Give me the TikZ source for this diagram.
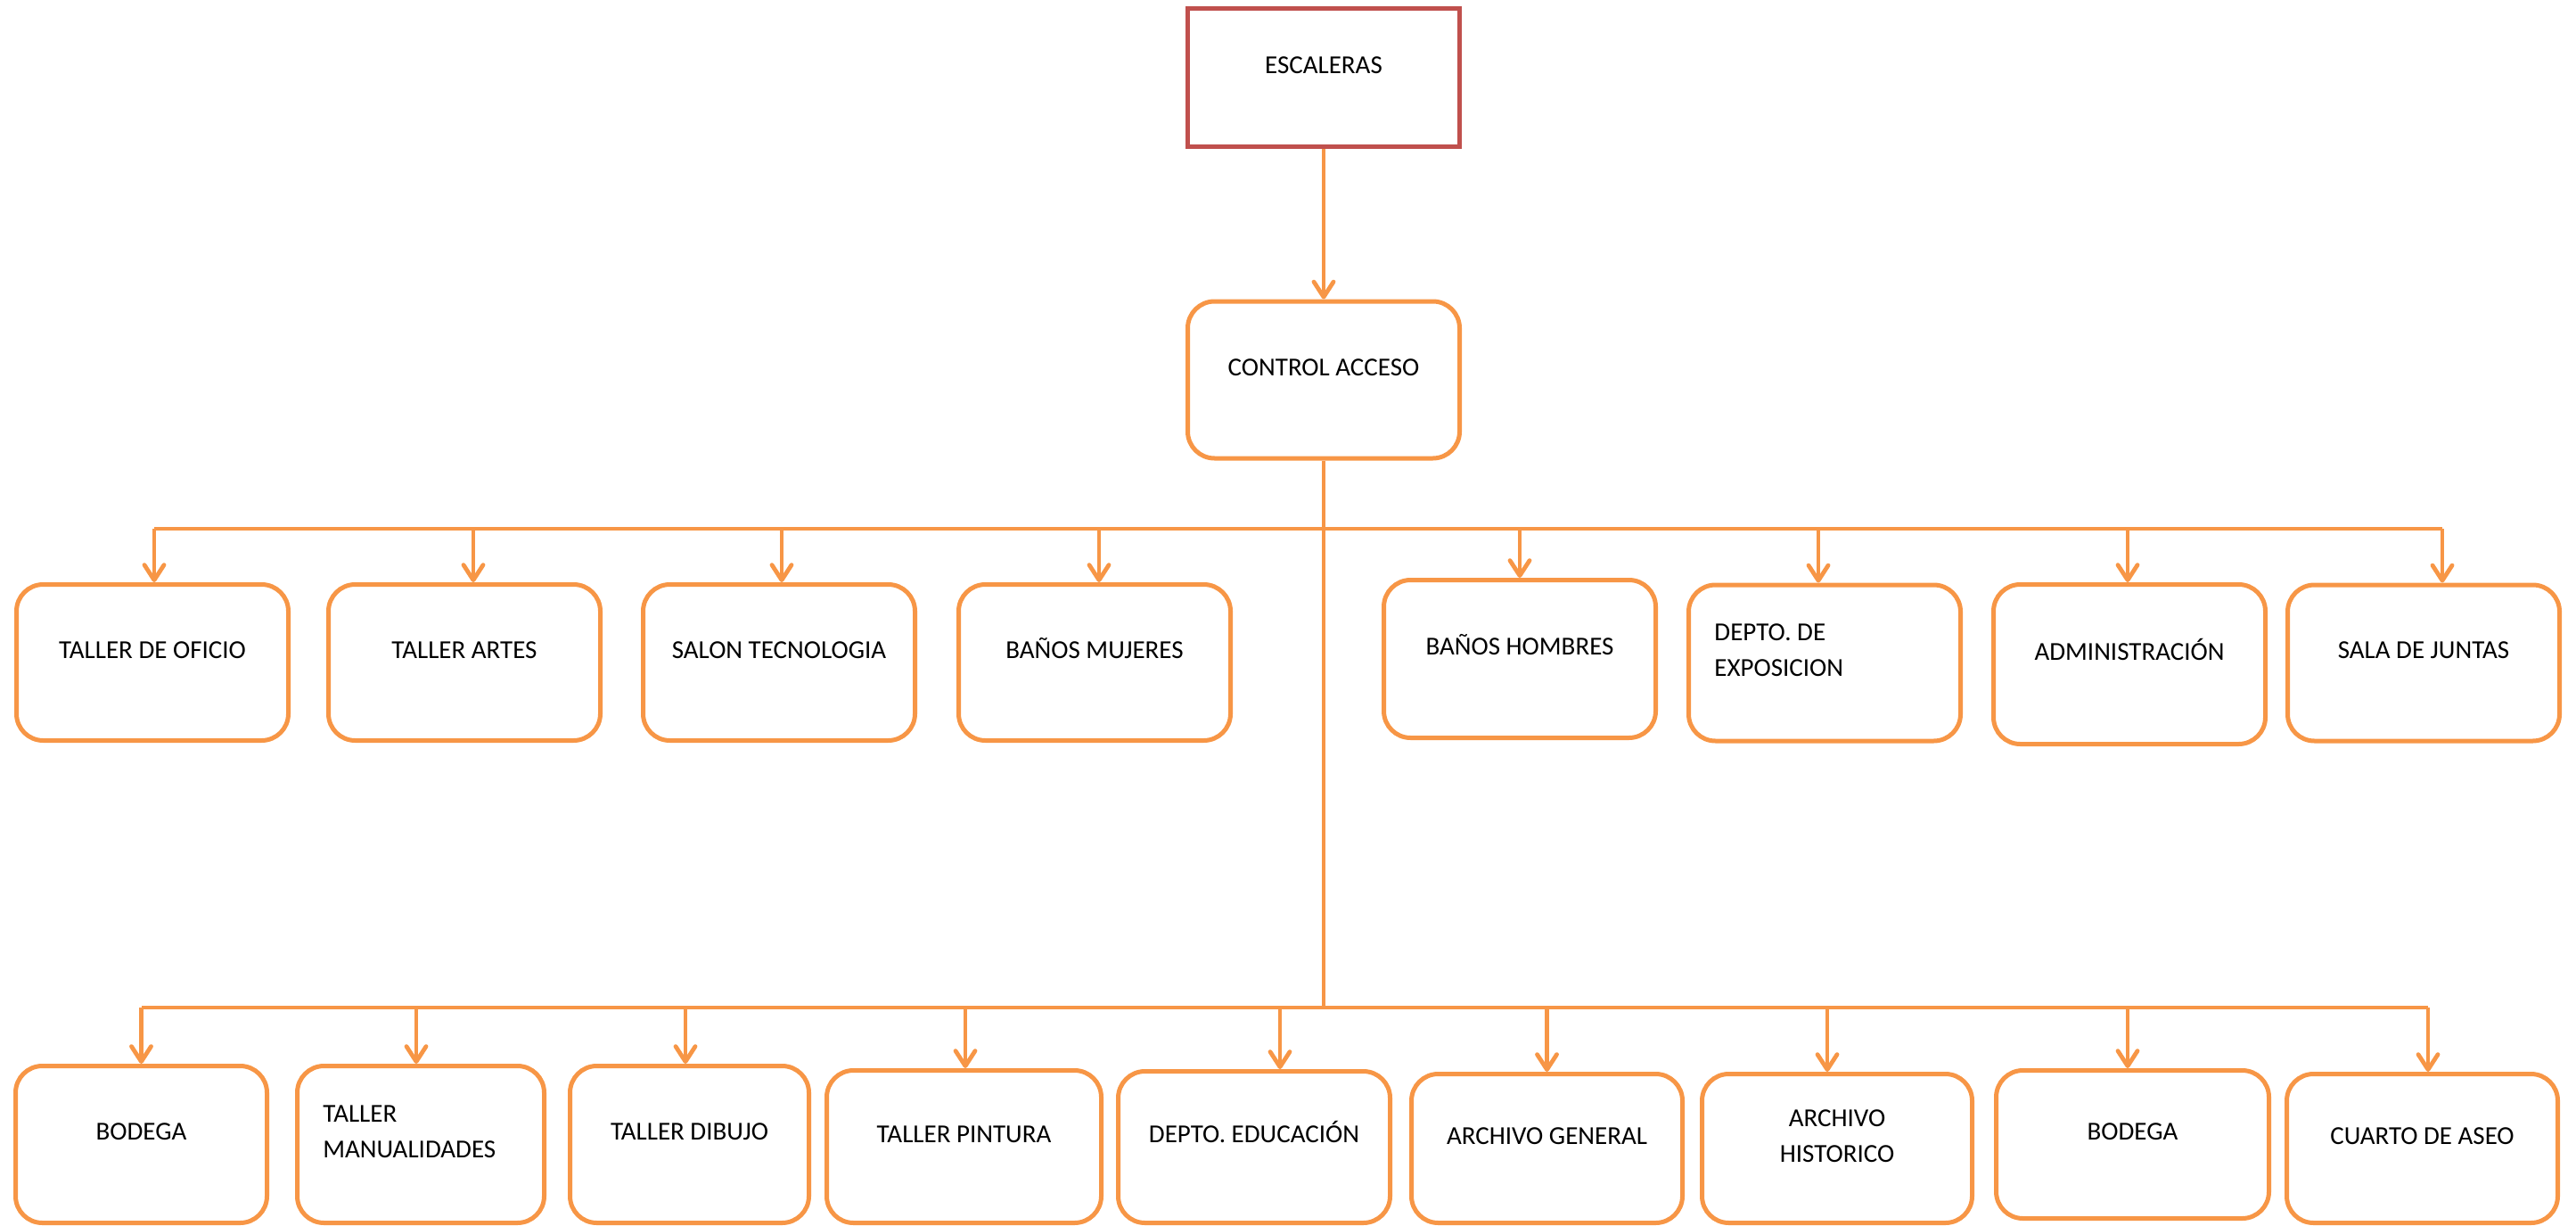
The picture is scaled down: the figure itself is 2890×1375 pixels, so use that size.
\documentclass[tikz,border=0pt]{standalone}
\usepackage{fontspec}
\setmainfont{Carlito}
\usetikzlibrary{arrows.meta}

\definecolor{boxorange}{HTML}{F79646}
\definecolor{boxred}{HTML}{C0504D}

\tikzset{
    room/.style={draw=boxorange, line width=2.5pt, rounded corners=15pt, minimum width=152.5pt, minimum height=87.5pt, inner sep=0pt},
    txt/.style={inner sep=0pt, font=\fontsize{14.5pt}{20pt}\selectfont, text height=9.3pt, text depth=0pt, yshift=7pt},
    txttwo/.style={inner sep=0pt, font=\fontsize{14.5pt}{20pt}\selectfont, yshift=7pt},
    link/.style={draw=boxorange, line width=2.4pt},
    arr/.style={link, -{Straight Barb[length=8.5pt, width=11pt, round]}},
}

\begin{document}
\begin{tikzpicture}[x=0.5pt, y=-0.5pt]
    \useasboundingbox (0,0) rectangle (2890,1375);

    % stairs and access
    \node[draw=boxred, line width=2.5pt, minimum width=152.5pt, minimum height=77.75pt, label={[txt]center:ESCALERAS}] (escaleras) at (1485,87) {};
    \node[room, minimum height=88pt, label={[txt]center:CONTROL ACCESO}] (control) at (1485,426) {};

    % upper row
    \node[room, label={[txt]center:TALLER DE OFICIO}] (oficio) at (171,743) {};
    \node[room, label={[txt]center:TALLER ARTES}] (artes) at (521,743) {};
    \node[room, label={[txt]center:SALON TECNOLOGIA}] (tecnologia) at (874,743) {};
    \node[room, label={[txt]center:BAÑOS MUJERES}] (mujeres) at (1228,743) {};
    \node[room, minimum height=88.5pt, label={[txt]center:BAÑOS HOMBRES}] (hombres) at (1705,739) {};
    \node[room, label={[txttwo, align=left, anchor=west, xshift=15.5pt]west:DEPTO. DE\\EXPOSICION}] (exposicion) at (2047,743.5) {};
    \node[room, minimum height=89.5pt, label={[txt]center:ADMINISTRACIÓN}] (administracion) at (2389,745) {};
    \node[room, label={[txt]center:SALA DE JUNTAS}] (juntas) at (2719,743.5) {};

    % lower row
    \node[room, minimum width=141pt, minimum height=88pt, label={[txt]center:BODEGA}] (bodegaA) at (158.5,1283.5) {};
    \node[room, minimum width=138.5pt, minimum height=88pt, label={[txttwo, align=left, anchor=west, xshift=15.5pt]west:TALLER\\MANUALIDADES}] (manualidades) at (472,1283.5) {};
    \node[room, minimum width=134pt, minimum height=88pt, label={[txt]center:TALLER DIBUJO}] (dibujo) at (773.5,1283.5) {};
    \node[room, minimum width=154pt, minimum height=85.5pt, label={[txt]center:TALLER PINTURA}] (pintura) at (1081.5,1286) {};
    \node[room, minimum width=152.5pt, minimum height=85pt, label={[txt]center:DEPTO. EDUCACIÓN}] (educacion) at (1407,1286.5) {};
    \node[room, minimum width=152pt, minimum height=83.5pt, label={[txt]center:ARCHIVO GENERAL}] (general) at (1735.5,1288) {};
    \node[room, minimum width=151.5pt, minimum height=83.5pt, label={[txttwo, align=center]center:ARCHIVO\\HISTORICO}] (historico) at (2061,1288) {};
    \node[room, minimum width=153pt, minimum height=83pt, label={[txt]center:BODEGA}] (bodegaB) at (2392.5,1283.5) {};
    \node[room, minimum width=152pt, minimum height=83.5pt, label={[txt]center:CUARTO DE ASEO}] (aseo) at (2717.5,1288) {};

    % trunk
    \coordinate (bus1) at (1484,593);
    \coordinate (bus2) at (1484,1130);
    \draw[arr] (escaleras) -- (control);
    \draw[link] (control.south) -- (control.south |- bus2);

    % upper bus
    \draw[link] ([xshift=1pt]oficio.north |- bus1) -- ([xshift=10.5pt]juntas.north |- bus1);
    \foreach \n/\dx in {oficio/1, artes/5, tecnologia/1.5, mujeres/2.5, hombres/0, exposicion/-3.5, administracion/-1, juntas/10.5}
        \draw[arr] ([xshift=\dx pt]\n.north |- bus1) -- ([xshift=\dx pt]\n.north);

    % lower bus
    \draw[link] (bodegaA.north |- bus2) -- ([xshift=3.25pt]aseo.north |- bus2);
    \foreach \n/\dx in {bodegaA/0, manualidades/-2.5, dibujo/-2.25, pintura/0.75, educacion/14.5, general/0, historico/-5.5, bodegaB/-2.75, aseo/3.25}
        \draw[arr] ([xshift=\dx pt]\n.north |- bus2) -- ([xshift=\dx pt]\n.north);
\end{tikzpicture}
\end{document}
